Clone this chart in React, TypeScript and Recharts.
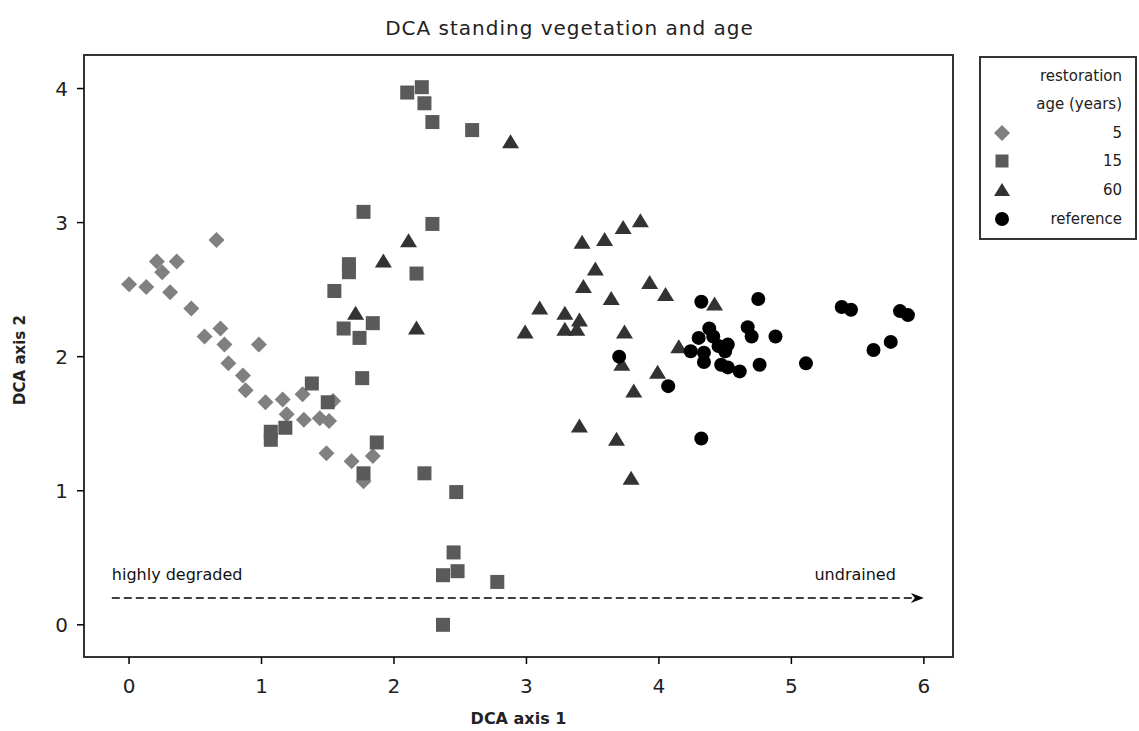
import React from "react";
import {
  ScatterChart,
  Scatter,
  XAxis,
  YAxis,
  ReferenceArea,
  ReferenceLine,
} from "recharts";

const xTicks = [0, 1, 2, 3, 4, 5, 6];
const yTicks = [0, 1, 2, 3, 4];
const xDomain = [-0.34, 6.22];
const yDomain = [-0.24, 4.25];

const legendTitle = ["restoration", "age (years)"];
const seriesNames = ["5", "15", "60", "reference"];

const age5 = [
  { x: 0.0, y: 2.54 }, { x: 0.13, y: 2.52 }, { x: 0.21, y: 2.71 }, { x: 0.25, y: 2.63 },
  { x: 0.36, y: 2.71 }, { x: 0.31, y: 2.48 }, { x: 0.47, y: 2.36 }, { x: 0.66, y: 2.87 },
  { x: 0.69, y: 2.21 }, { x: 0.57, y: 2.15 }, { x: 0.72, y: 2.09 }, { x: 0.98, y: 2.09 },
  { x: 0.75, y: 1.95 }, { x: 0.86, y: 1.86 }, { x: 0.88, y: 1.75 }, { x: 1.03, y: 1.66 },
  { x: 1.16, y: 1.68 }, { x: 1.31, y: 1.72 }, { x: 1.19, y: 1.57 }, { x: 1.32, y: 1.53 },
  { x: 1.44, y: 1.54 }, { x: 1.51, y: 1.52 }, { x: 1.54, y: 1.67 }, { x: 1.49, y: 1.28 },
  { x: 1.68, y: 1.22 }, { x: 1.84, y: 1.26 }, { x: 1.77, y: 1.07 },
];

const age15 = [
  { x: 2.1, y: 3.97 }, { x: 2.21, y: 4.01 }, { x: 2.23, y: 3.89 }, { x: 2.29, y: 3.75 },
  { x: 2.59, y: 3.69 }, { x: 1.77, y: 3.08 }, { x: 2.29, y: 2.99 }, { x: 1.66, y: 2.69 },
  { x: 1.66, y: 2.63 }, { x: 1.55, y: 2.49 }, { x: 2.17, y: 2.62 }, { x: 1.62, y: 2.21 },
  { x: 1.74, y: 2.14 }, { x: 1.84, y: 2.25 }, { x: 1.76, y: 1.84 }, { x: 1.38, y: 1.8 },
  { x: 1.5, y: 1.66 }, { x: 1.07, y: 1.44 }, { x: 1.07, y: 1.38 }, { x: 1.18, y: 1.47 },
  { x: 1.87, y: 1.36 }, { x: 1.77, y: 1.13 }, { x: 2.23, y: 1.13 }, { x: 2.47, y: 0.99 },
  { x: 2.45, y: 0.54 }, { x: 2.37, y: 0.37 }, { x: 2.48, y: 0.4 }, { x: 2.78, y: 0.32 },
  { x: 2.37, y: 0.0 },
];

const age60 = [
  { x: 2.88, y: 3.6 }, { x: 2.11, y: 2.86 }, { x: 1.92, y: 2.71 }, { x: 1.71, y: 2.32 },
  { x: 2.17, y: 2.21 }, { x: 2.99, y: 2.18 }, { x: 3.1, y: 2.36 }, { x: 3.29, y: 2.32 },
  { x: 3.4, y: 2.27 }, { x: 3.29, y: 2.2 }, { x: 3.38, y: 2.2 }, { x: 3.43, y: 2.52 },
  { x: 3.52, y: 2.65 }, { x: 3.42, y: 2.85 }, { x: 3.59, y: 2.87 }, { x: 3.73, y: 2.96 },
  { x: 3.86, y: 3.01 }, { x: 3.64, y: 2.43 }, { x: 3.93, y: 2.55 }, { x: 4.05, y: 2.46 },
  { x: 3.74, y: 2.18 }, { x: 3.72, y: 1.94 }, { x: 3.99, y: 1.88 }, { x: 3.81, y: 1.74 },
  { x: 3.4, y: 1.48 }, { x: 3.68, y: 1.38 }, { x: 3.79, y: 1.09 }, { x: 4.15, y: 2.07 },
  { x: 4.42, y: 2.39 },
];

const reference = [
  { x: 4.32, y: 2.41 }, { x: 4.75, y: 2.43 }, { x: 3.7, y: 2.0 }, { x: 4.07, y: 1.78 },
  { x: 4.32, y: 1.39 }, { x: 4.38, y: 2.21 }, { x: 4.3, y: 2.14 }, { x: 4.41, y: 2.15 },
  { x: 4.24, y: 2.04 }, { x: 4.34, y: 2.03 }, { x: 4.34, y: 1.96 }, { x: 4.45, y: 2.08 },
  { x: 4.52, y: 2.09 }, { x: 4.5, y: 2.04 }, { x: 4.47, y: 1.94 }, { x: 4.52, y: 1.92 },
  { x: 4.61, y: 1.89 }, { x: 4.67, y: 2.22 }, { x: 4.7, y: 2.15 }, { x: 4.88, y: 2.15 },
  { x: 4.76, y: 1.94 }, { x: 5.11, y: 1.95 }, { x: 5.38, y: 2.37 }, { x: 5.45, y: 2.35 },
  { x: 5.82, y: 2.34 }, { x: 5.88, y: 2.31 }, { x: 5.75, y: 2.11 }, { x: 5.62, y: 2.05 },
];

const arrowSegment = [
  { x: -0.13, y: 0.2 },
  { x: 6.0, y: 0.2 },
];
const arrowLabels = ["highly degraded", "undrained"];

const C5 = "#808080";
const C15 = "#5a5a5a";
const C60 = "#333333";
const CREF = "#000000";

const FONT = "'DejaVu Sans', sans-serif";

const DiamondShape = (p: any) => {
  const { cx, cy } = p;
  const r = 8;
  return (
    <polygon
      points={`${cx},${cy - r} ${cx + r},${cy} ${cx},${cy + r} ${cx - r},${cy}`}
      fill={C5}
    />
  );
};
const SquareShape = (p: any) => {
  const { cx, cy } = p;
  const h = 7;
  return <rect x={cx - h} y={cy - h} width={2 * h} height={2 * h} fill={C15} />;
};
const TriangleShape = (p: any) => {
  const { cx, cy } = p;
  return (
    <polygon
      points={`${cx},${cy - 8} ${cx + 8.5},${cy + 6} ${cx - 8.5},${cy + 6}`}
      fill={C60}
    />
  );
};
const CircleShape = (p: any) => {
  const { cx, cy } = p;
  return <circle cx={cx} cy={cy} r={7} fill={CREF} />;
};

const ArrowShape = (p: any) => {
  const { x1, y1, x2, y2 } = p;
  return (
    <g>
      <line x1={x1} y1={y1} x2={x2 - 6} y2={y2} stroke="#000" strokeWidth={1.5} strokeDasharray="8 4" />
      <path
        d={`M ${x2 - 13} ${y2 - 5} L ${x2} ${y2} L ${x2 - 13} ${y2 + 5} L ${x2 - 9} ${y2} Z`}
        fill="#000"
      />
      <text x={x1} y={y1 - 18} fontFamily={FONT} fontSize={16} fill="#111">
        {arrowLabels[0]}
      </text>
      <text x={x2 - 28} y={y1 - 18} fontFamily={FONT} fontSize={16} fill="#111" textAnchor="end">
        {arrowLabels[1]}
      </text>
    </g>
  );
};

const YLabel = (p: any) => {
  const vb = p.viewBox || { x: 0, y: 0, width: 0, height: 0 };
  const cx = vb.x + 20;
  const cy = vb.y + vb.height / 2 + 4;
  return (
    <text
      x={cx}
      y={cy}
      transform={`rotate(-90, ${cx}, ${cy})`}
      textAnchor="middle"
      dominantBaseline="central"
      fontFamily={FONT}
      fontSize={15}
      fontWeight="bold"
      fill="#222"
    >
      DCA axis 2
    </text>
  );
};
const XLabel = (p: any) => {
  const vb = p.viewBox || { x: 0, y: 0, width: 0, height: 0 };
  const cx = vb.x + vb.width / 2;
  return (
    <text
      x={cx}
      y={vb.y + 61}
      textAnchor="middle"
      dominantBaseline="central"
      fontFamily={FONT}
      fontSize={16}
      fontWeight="bold"
      fill="#222"
    >
      DCA axis 1
    </text>
  );
};

const legendShapes = [
  (cx: number, cy: number) => <polygon points={`${cx},${cy - 8} ${cx + 8},${cy} ${cx},${cy + 8} ${cx - 8},${cy}`} fill={C5} />,
  (cx: number, cy: number) => <rect x={cx - 6.5} y={cy - 6.5} width={13} height={13} fill={C15} />,
  (cx: number, cy: number) => <polygon points={`${cx},${cy - 7} ${cx + 8},${cy + 6} ${cx - 8},${cy + 6}`} fill={C60} />,
  (cx: number, cy: number) => <circle cx={cx} cy={cy} r={7} fill={CREF} />,
];

const Legend = () => {
  const rows = [76, 104, 133, 161, 190, 219];
  return (
    <svg
      style={{ position: "absolute", left: 979, top: 56 }}
      width={158}
      height={184}
    >
      <rect x={1} y={1} width={156} height={182} fill="#fff" stroke="#333" strokeWidth={2} />
      {legendTitle.map((t, i) => (
        <text key={t} x={143} y={rows[i] - 56} textAnchor="end" dominantBaseline="central" fontFamily={FONT} fontSize={15} fill="#222">
          {t}
        </text>
      ))}
      {seriesNames.map((n, i) => (
        <g key={n}>
          {legendShapes[i](23, rows[i + 2] - 56)}
          <text x={143} y={rows[i + 2] - 56} textAnchor="end" dominantBaseline="central" fontFamily={FONT} fontSize={15} fill="#222">
            {n}
          </text>
        </g>
      ))}
    </svg>
  );
};

export default function App() {
  return (
    <div style={{ position: "absolute", left: 0, top: 0, width: 1139, height: 731, background: "#fff" }}>
      <div
        style={{
          position: "absolute",
          left: 0,
          top: 15,
          width: 1139,
          textAlign: "center",
          fontFamily: FONT,
          fontSize: 20,
          letterSpacing: 1,
          color: "#222",
          lineHeight: "26px",
        }}
      >
        DCA standing vegetation and age
      </div>
      <ScatterChart
        width={1139}
        height={731}
        margin={{ top: 55, right: 186, bottom: 4, left: 0 }}
      >
        <XAxis
          type="number"
          dataKey="x"
          domain={xDomain}
          ticks={xTicks}
          allowDataOverflow
          axisLine={false}
          tickLine={{ stroke: "#000", strokeWidth: 1.5 }}
          tickSize={7}
          tickMargin={15}
          height={70}
          tick={{ fontFamily: FONT, fontSize: 20, fill: "#222" }}
          label={<XLabel />}
        />
        <YAxis
          type="number"
          dataKey="y"
          domain={yDomain}
          ticks={yTicks}
          allowDataOverflow
          axisLine={false}
          tickLine={{ stroke: "#000", strokeWidth: 1.5 }}
          tickSize={7}
          tickMargin={9}
          width={84}
          tick={{ fontFamily: FONT, fontSize: 20, fill: "#222" }}
          label={<YLabel />}
        />
        <ReferenceArea
          x1={xDomain[0]}
          x2={xDomain[1]}
          y1={yDomain[0]}
          y2={yDomain[1]}
          fill="none"
          fillOpacity={0}
          stroke="#333"
          strokeWidth={2}
        />
        <ReferenceLine segment={arrowSegment} shape={ArrowShape} />
        <Scatter name="5" data={age5} shape={DiamondShape} isAnimationActive={false} />
        <Scatter name="15" data={age15} shape={SquareShape} isAnimationActive={false} />
        <Scatter name="60" data={age60} shape={TriangleShape} isAnimationActive={false} />
        <Scatter name="reference" data={reference} shape={CircleShape} isAnimationActive={false} />
      </ScatterChart>
      <Legend />
    </div>
  );
}
